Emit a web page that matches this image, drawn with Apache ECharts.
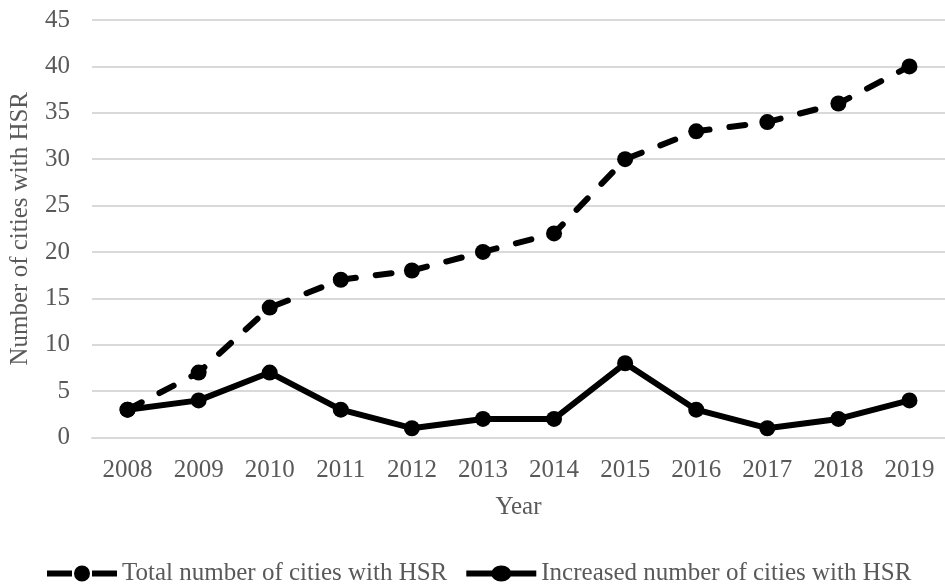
<!DOCTYPE html>
<html>
<head>
<meta charset="utf-8">
<script src="https://cdn.jsdelivr.net/npm/echarts@6/dist/echarts.min.js"></script>
<style>
  html, body { margin: 0; padding: 0; background: #fff; }
  #chart { width: 945px; height: 584px; }
</style>
</head>
<body>
<div id="chart"></div>
<script>
// Cities connected by high-speed rail, 2008-2019
const years = ['2008', '2009', '2010', '2011', '2012', '2013', '2014', '2015', '2016', '2017', '2018', '2019'];
const totalCities = [3, 7, 14, 17, 18, 20, 22, 30, 33, 34, 36, 40];
const increasedCities = [3, 4, 7, 3, 1, 2, 2, 8, 3, 1, 2, 4];
const totalName = 'Total number of cities with HSR';
const increasedName = 'Increased number of cities with HSR';

const font = 'Liberation Serif, Times New Roman, serif';
const textColor = '#595959';
const fontSize = 25;

// Legend keys: a thick line with a dot, broken around the dot for the dashed series
const dashedKey = 'path://M0,5L25,5L25,11L0,11Z M27,8A8,8 0 1,1 43,8A8,8 0 1,1 27,8Z M45,5L70,5L70,11L45,11Z';
const solidKey = 'path://M0,5L27.8,5L27.8,11L0,11Z M25,8A10,8 0 1,1 45,8A10,8 0 1,1 25,8Z M42.2,5L70,5L70,11L42.2,11Z';
const keyStyle = { color: '#000', borderWidth: 0, borderColor: 'transparent' };

const chart = echarts.init(document.getElementById('chart'));
chart.setOption({
  animation: false,
  backgroundColor: '#ffffff',
  grid: { left: 92, right: -4, top: 20, bottom: 146.5, containLabel: false },
  legend: {
    top: 556,
    left: 42,
    itemWidth: 70,
    itemHeight: 16,
    itemGap: 19,
    itemStyle: keyStyle,
    lineStyle: { width: 0 },
    textStyle: { fontFamily: font, fontSize: fontSize, color: textColor },
    data: [
      { name: totalName, icon: dashedKey, itemStyle: keyStyle },
      { name: increasedName, icon: solidKey, itemStyle: keyStyle }
    ]
  },
  xAxis: {
    type: 'category',
    data: years,
    boundaryGap: true,
    name: 'Year',
    nameLocation: 'middle',
    nameGap: 57,
    nameTextStyle: { fontFamily: font, fontSize: fontSize, color: textColor },
    axisLine: { show: true, lineStyle: { color: '#d9d9d9', width: 2 } },
    axisTick: { show: false },
    axisLabel: { fontFamily: font, fontSize: fontSize, color: textColor, margin: 20 }
  },
  yAxis: {
    type: 'value',
    min: 0,
    max: 45,
    interval: 5,
    name: 'Number of cities with HSR',
    nameLocation: 'middle',
    nameGap: 59,
    nameTextStyle: { fontFamily: font, fontSize: fontSize, color: textColor },
    axisLine: { show: false },
    axisTick: { show: false },
    axisLabel: { fontFamily: font, fontSize: fontSize, color: textColor, margin: 22 },
    splitLine: { lineStyle: { color: '#d9d9d9', width: 2 } }
  },
  series: [
    {
      name: totalName,
      type: 'line',
      data: totalCities,
      symbol: 'circle',
      symbolSize: 16,
      itemStyle: { color: '#000' },
      lineStyle: { color: '#000', width: 6, type: [16, 20], cap: 'round' }
    },
    {
      name: increasedName,
      type: 'line',
      data: increasedCities,
      symbol: 'circle',
      symbolSize: 16,
      itemStyle: { color: '#000' },
      lineStyle: { color: '#000', width: 6, cap: 'round' }
    }
  ]
});
</script>
</body>
</html>
